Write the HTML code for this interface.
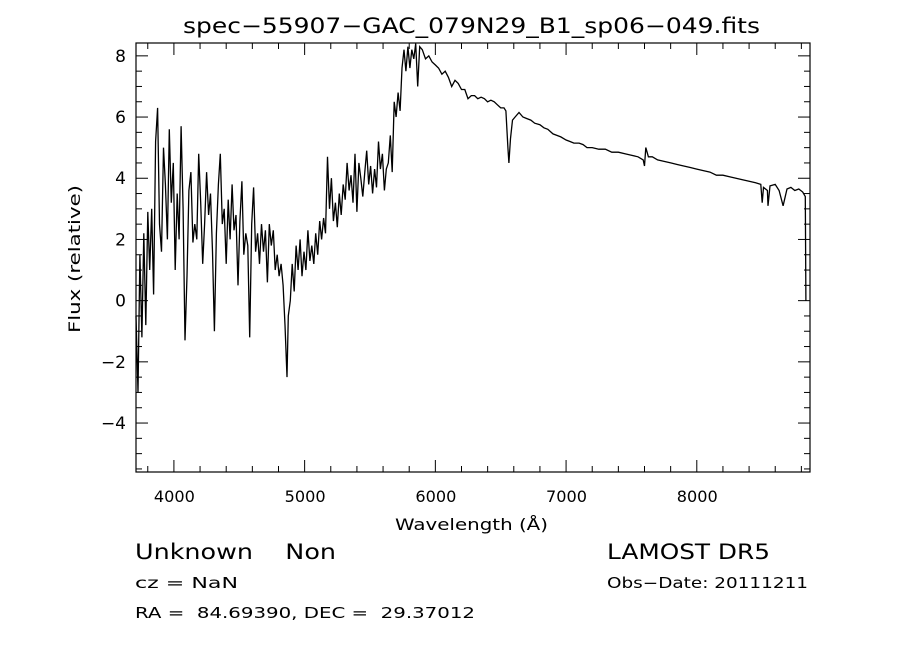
<!DOCTYPE html>
<html><head><meta charset="utf-8">
<style>
html,body{margin:0;padding:0;background:#fff;}
svg{display:block;font-family:"DejaVu Sans","Liberation Sans",sans-serif;}
</style></head>
<body>
<svg id="chart" width="900" height="649" viewBox="0 0 900 649">
<text x="183" y="33" font-size="21" textLength="577" lengthAdjust="spacingAndGlyphs">spec−55907−GAC_079N29_B1_sp06−049.fits</text>
<g id="axes"></g>
<polyline id="spec" fill="none" stroke="#000" stroke-width="1.3"/>
<text x="395" y="530" font-size="16" textLength="153" lengthAdjust="spacingAndGlyphs">Wavelength (Å)</text>
<text transform="translate(80,333) rotate(-90)" font-size="16" textLength="148" lengthAdjust="spacingAndGlyphs">Flux (relative)</text>
<text x="135" y="559" font-size="21" textLength="201" lengthAdjust="spacingAndGlyphs" xml:space="preserve">Unknown    Non</text>
<text x="135" y="588" font-size="15" textLength="103" lengthAdjust="spacingAndGlyphs">cz = NaN</text>
<text x="135" y="618" font-size="15" textLength="340" lengthAdjust="spacingAndGlyphs" xml:space="preserve">RA =  84.69390, DEC =  29.37012</text>
<text x="607" y="559" font-size="21" textLength="163" lengthAdjust="spacingAndGlyphs">LAMOST DR5</text>
<text x="607" y="588" font-size="15" textLength="201" lengthAdjust="spacingAndGlyphs">Obs−Date: 20111211</text>
</svg>
<script>
const xTicks=[4000,5000,6000,7000,8000];
const yTicks=[-4,-2,0,2,4,6,8];
const blueWave=[3710,3725,3740,3755,3770,3785,3800,3815,3830,3845,3860,3875,3890,3905,3920,3935,3950,3965,3980,3995,4010,4025,4040,4055,4070,4085,4100,4115,4130,4145,4160,4175,4190,4205,4220,4235,4250,4265,4280,4295,4310,4325,4340,4355,4370,4385,4400,4415,4430,4445,4460,4475,4490,4505,4520,4535,4550,4565,4580,4595,4610,4625,4640,4655,4670,4685,4700,4715,4730,4745,4760,4775,4790,4805,4820,4835,4850,4865,4875,4890,4905,4920,4935,4950,4965,4980,4995,5010,5025,5040,5055,5070,5085,5100,5115,5130,5145,5160,5175,5190,5205,5220,5235,5250,5265,5280,5295,5310,5325,5340,5355,5370,5385,5400,5415,5430,5445,5460,5475,5490,5505,5520,5535,5550,5565,5580,5595,5610,5625,5640,5655,5670,5685,5700,5715,5730,5745,5760,5775,5790,5805,5820,5835,5850,5865,5880];
const blueFlux=[-0.5,-3.0,1.5,-1.2,2.2,-0.8,2.9,1.0,3.0,0.2,5.2,6.3,2.5,1.6,5.0,3.8,2.0,5.6,3.2,4.5,1.0,3.5,2.0,5.7,3.0,-1.3,0.8,3.6,4.2,1.9,2.5,2.0,4.8,3.2,1.2,2.5,4.2,2.8,3.5,1.6,-1.0,2.2,3.8,4.8,2.5,3.0,1.2,3.3,2.0,3.8,2.3,2.8,0.5,2.6,3.9,1.5,2.2,1.8,-1.2,2.5,3.7,1.6,2.2,1.2,2.5,1.6,2.3,0.6,2.5,1.8,2.3,1.0,1.5,0.8,1.2,0.5,-0.8,-2.5,-0.5,0.0,1.2,0.3,1.8,1.0,2.0,0.8,1.6,1.0,2.3,1.3,1.8,1.2,2.2,1.5,2.6,2.0,2.7,2.2,4.7,3.0,4.0,2.6,3.2,2.4,3.5,2.8,3.8,3.3,4.5,3.6,4.1,3.2,4.8,2.9,4.5,4.0,3.4,4.2,4.9,3.8,4.4,3.5,4.3,3.7,5.2,4.3,4.8,3.6,4.3,4.5,5.4,4.2,6.5,6.0,6.8,6.2,7.6,8.2,7.5,8.3,7.6,8.2,7.9,8.4,7.0,8.3];
const redWave=[5900,5925,5950,5975,6000,6025,6050,6075,6100,6125,6150,6175,6200,6225,6250,6275,6300,6325,6350,6375,6400,6425,6450,6475,6500,6525,6540,6555,6563,6575,6590,6610,6640,6670,6700,6730,6760,6800,6830,6860,6900,6930,6960,7000,7030,7060,7100,7130,7160,7200,7250,7300,7350,7400,7450,7500,7550,7590,7600,7610,7630,7660,7700,7750,7800,7850,7900,7950,8000,8050,8100,8150,8200,8250,8300,8350,8400,8450,8490,8500,8510,8540,8545,8560,8600,8630,8660,8690,8720,8750,8780,8810,8830,8835];
const redFlux=[8.2,7.9,8.0,7.8,7.7,7.6,7.4,7.5,7.3,7.0,7.2,7.1,6.9,6.9,6.6,6.7,6.7,6.6,6.65,6.6,6.5,6.55,6.5,6.4,6.3,6.3,6.2,5.0,4.5,5.3,5.9,6.0,6.15,6.0,5.95,5.9,5.8,5.75,5.65,5.6,5.45,5.4,5.35,5.25,5.2,5.15,5.15,5.1,5.0,5.0,4.95,4.95,4.85,4.85,4.8,4.75,4.7,4.6,4.4,5.0,4.7,4.7,4.6,4.55,4.5,4.45,4.4,4.35,4.3,4.25,4.2,4.1,4.1,4.05,4.0,3.95,3.9,3.85,3.8,3.2,3.7,3.6,3.1,3.75,3.8,3.6,3.1,3.65,3.7,3.6,3.65,3.55,3.4,0.0];

const L=136,R=810,T=43,B=472;
const xMin=3710,xMax=8866,yMin=-5.6,yMax=8.42;
const sx=w=>L+(w-xMin)/(xMax-xMin)*(R-L);
const sy=v=>B-(v-yMin)/(yMax-yMin)*(B-T);
const NS='http://www.w3.org/2000/svg';
const axes=document.getElementById('axes');
function ln(x1,y1,x2,y2,name){const e=document.createElementNS(NS,'line');
e.setAttribute('x1',x1);e.setAttribute('y1',y1);e.setAttribute('x2',x2);e.setAttribute('y2',y2);
e.setAttribute('stroke','#000');e.setAttribute('stroke-width','1');


axes.appendChild(e);}
const fr=document.createElementNS(NS,'rect');
fr.setAttribute('x',L);fr.setAttribute('y',T);fr.setAttribute('width',R-L);fr.setAttribute('height',B-T);
fr.setAttribute('fill','none');fr.setAttribute('stroke','#000');fr.setAttribute('stroke-width','1.2');


axes.appendChild(fr);
for(let w=3800;w<=8800;w+=200){const x=sx(w);const major=xTicks.includes(w);const len=major?12:6;
ln(x,B,x,B-len,'x-tick');ln(x,T,x,T+len,'x-tick-top');}
xTicks.forEach(w=>{const t=document.createElementNS(NS,'text');t.setAttribute('x',sx(w)-20);t.setAttribute('y',B+30);
t.setAttribute('font-size','16');t.setAttribute('textLength','41');t.setAttribute('lengthAdjust','spacingAndGlyphs');t.textContent=w;


axes.appendChild(t);});
for(let v=-5.5;v<=8.01;v+=0.5){const y=sy(v);const major=yTicks.includes(v);const len=major?12:6;
ln(L,y,L+len,y,'y-tick');ln(R,y,R-len,y,'y-tick-right');}
yTicks.forEach(v=>{const t=document.createElementNS(NS,'text');t.setAttribute('x',L-10);t.setAttribute('y',sy(v)+6);
t.setAttribute('font-size','17');t.setAttribute('text-anchor','end');t.textContent=(v<0?'−':'')+Math.abs(v);


axes.appendChild(t);});
const wave=blueWave.concat(redWave),flux=blueFlux.concat(redFlux);
let pts=[];for(let i=0;i<wave.length;i++){pts.push(sx(wave[i]).toFixed(1)+','+sy(flux[i]).toFixed(1));}
document.getElementById('spec').setAttribute('points',pts.join(' '));
</script>
</body></html>
